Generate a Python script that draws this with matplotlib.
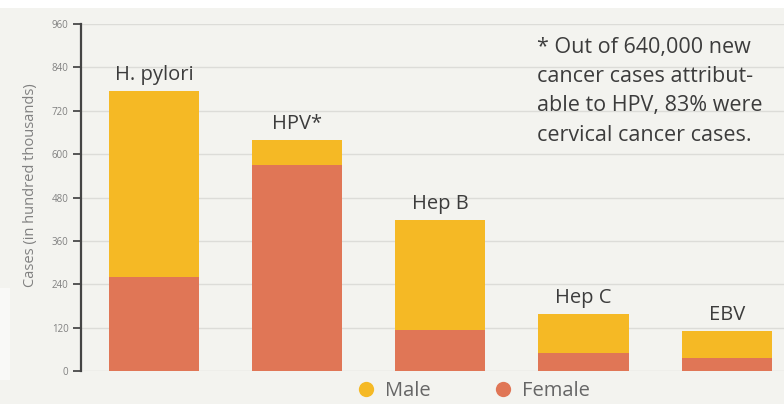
import matplotlib
matplotlib.use("Agg")
import matplotlib.pyplot as plt
from matplotlib.lines import Line2D
from matplotlib.patches import Rectangle

# Cancer cases attributable to infectious agents, by sex
agents = ["H. pylori", "HPV*", "Hep B", "Hep C", "EBV"]
female = [260, 570, 113, 50, 36]
male = [514, 69, 304, 108, 75]
y_ticks = [0, 120, 240, 360, 480, 600, 720, 840, 960]

MALE_COLOR = "#f5b925"
FEMALE_COLOR = "#e07656"
BG = "#f3f3ef"
TEXT = "#3c3c3c"

plt.rcParams["font.family"] = ["Open Sans", "DejaVu Sans"]

fig = plt.figure(figsize=(7.84, 4.04), dpi=100, facecolor=BG)
# thin white strip along the top edge and a pale panel at the lower left
fig.patches.append(Rectangle((0, 396 / 404), 1, 8 / 404, transform=fig.transFigure,
                             facecolor="white", edgecolor="none", zorder=0))
fig.patches.append(Rectangle((0, 24 / 404), 10 / 784, 92 / 404, transform=fig.transFigure,
                             facecolor="#f9f9f7", edgecolor="none", zorder=0))

ax = fig.add_axes([81 / 784, 33 / 404, 1 - 81 / 784, 347 / 404])
ax.set_facecolor(BG)

x = list(range(len(agents)))
width = 0.63
ax.bar(x, female, width, color=FEMALE_COLOR, zorder=3)
ax.bar(x, male, width, bottom=female, color=MALE_COLOR, zorder=3)

for xi, name, f, m in zip(x, agents, female, male):
    ax.annotate(name, (xi, f + m), xytext=(0, 8), textcoords="offset points",
                ha="center", va="baseline", fontsize=14.5, color=TEXT)

ax.set_xlim(-0.51, 4.40)
ax.set_ylim(0, 960)
ax.set_yticks(y_ticks)
ax.set_yticklabels([str(v) for v in y_ticks], fontsize=7, color="#808080")
ax.tick_params(axis="y", length=6, width=1.4, color="#555555", pad=3)
ax.set_xticks([])
ax.grid(axis="y", color="#dcdcd8", linewidth=1.0, zorder=0)
for side in ("top", "right", "bottom"):
    ax.spines[side].set_visible(False)
ax.spines["left"].set_color("#444444")
ax.spines["left"].set_linewidth(1.6)
ax.set_ylabel("Cases (in hundred thousands)", fontsize=10.5, color="#808080")
ax.yaxis.set_label_coords(-0.061, 0.536)

ax.text((537 - 81) / 703, 0.963, "* Out of 640,000 new\ncancer cases attribut-\nable to HPV, 83% were\ncervical cancer cases.",
        transform=ax.transAxes, ha="left", va="top", fontsize=15.5, color=TEXT,
        linespacing=1.52)

handles = [Line2D([], [], marker="o", linestyle="", markersize=11,
                  markerfacecolor=MALE_COLOR, markeredgecolor="none", label="Male"),
           Line2D([], [], marker="o", linestyle="", markersize=11,
                  markerfacecolor=FEMALE_COLOR, markeredgecolor="none", label="Female")]
fig.legend(handles=handles, loc="center", bbox_to_anchor=(473 / 784, 1 - 391 / 404),
           ncol=2, frameon=False, fontsize=14.5, labelcolor="#666666",
           handlelength=1.0, handletextpad=0.45, columnspacing=3.1, borderpad=0)

fig.savefig("out.png", dpi=100, facecolor=BG)
